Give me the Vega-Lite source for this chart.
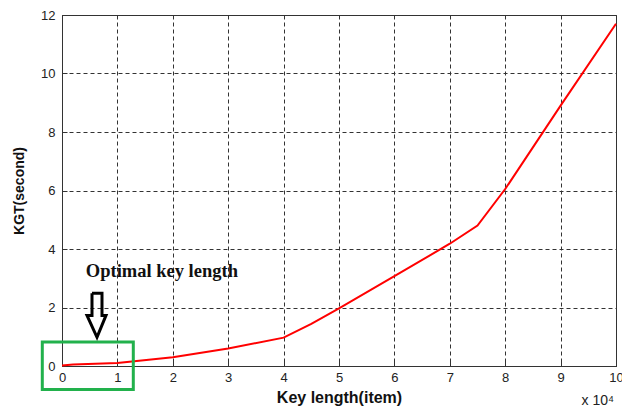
{
  "$schema": "https://vega.github.io/schema/vega-lite/v6.json",
  "width": 554,
  "height": 351,
  "autosize": "none",
  "padding": {"left": 62, "top": 15, "right": 6, "bottom": 43},
  "background": "white",
  "config": {
    "view": {"stroke": "#333", "strokeWidth": 1},
    "font": "Liberation Sans"
  },
  "datasets": {
    "kgt": [
      {"key_length": 0, "kgt": 0.02},
      {"key_length": 2000, "kgt": 0.05},
      {"key_length": 10000, "kgt": 0.1},
      {"key_length": 20000, "kgt": 0.3},
      {"key_length": 30000, "kgt": 0.6},
      {"key_length": 40000, "kgt": 0.97},
      {"key_length": 45000, "kgt": 1.44},
      {"key_length": 50000, "kgt": 1.97},
      {"key_length": 60000, "kgt": 3.07},
      {"key_length": 70000, "kgt": 4.18},
      {"key_length": 75000, "kgt": 4.8},
      {"key_length": 80000, "kgt": 6.05},
      {"key_length": 90000, "kgt": 8.9},
      {"key_length": 100000, "kgt": 11.7}
    ],
    "arrow": [
      {"i": 0, "ax": 5415, "ay": 2.49},
      {"i": 1, "ax": 7220, "ay": 2.49},
      {"i": 2, "ax": 7220, "ay": 1.73},
      {"i": 3, "ax": 7942, "ay": 1.73},
      {"i": 4, "ax": 6318, "ay": 0.98},
      {"i": 5, "ax": 4513, "ay": 1.73},
      {"i": 6, "ax": 5415, "ay": 1.73},
      {"i": 7, "ax": 5415, "ay": 2.49}
    ],
    "box": [
      {"x0": -3556, "x1": 12870, "y0": 0.82, "y1": -0.807}
    ],
    "label": [
      {"lx": 4300, "ly": 3.24, "text": "Optimal key length"}
    ],
    "note": [
      {"nx": 100000, "ny": -1.2, "text": "x 10⁴"}
    ]
  },
  "layer": [
    {
      "data": {"name": "kgt"},
      "mark": {"type": "line", "color": "#ff0000", "strokeWidth": 2},
      "encoding": {
        "x": {
          "field": "key_length",
          "type": "quantitative",
          "scale": {"domain": [0, 100000], "nice": false},
          "axis": {
            "values": [0, 10000, 20000, 30000, 40000, 50000, 60000, 70000, 80000, 90000, 100000],
            "labelExpr": "datum.value / 10000",
            "title": "Key length(item)",
            "titleFont": "Liberation Sans",
            "titleFontWeight": "bold",
            "titleFontSize": 16,
            "titleColor": "#111",
            "titlePadding": 5,
            "labelFontSize": 13,
            "labelColor": "#222",
            "labelPadding": 10,
            "tickSize": -5,
            "tickColor": "#333",
            "domainColor": "#333",
            "grid": true,
            "gridDash": [4, 3],
            "gridColor": "#333",
            "gridOpacity": 1,
            "labelFlush": false,
            "labelOverlap": false
          }
        },
        "y": {
          "field": "kgt",
          "type": "quantitative",
          "scale": {"domain": [0, 12], "nice": false},
          "axis": {
            "values": [0, 2, 4, 6, 8, 10, 12],
            "title": "KGT(second)",
            "titleFont": "Liberation Sans",
            "titleFontWeight": "bold",
            "titleFontSize": 14,
            "titleColor": "#111",
            "titlePadding": 14,
            "labelFontSize": 13,
            "labelColor": "#222",
            "labelPadding": 12,
            "tickSize": -5,
            "tickColor": "#333",
            "domainColor": "#333",
            "grid": true,
            "gridDash": [4, 3],
            "gridColor": "#333",
            "gridOpacity": 1,
            "labelFlush": false,
            "labelOverlap": false
          }
        }
      }
    },
    {
      "data": {"name": "box"},
      "mark": {"type": "rect", "fill": null, "fillOpacity": 0, "stroke": "#22b14c", "strokeWidth": 3},
      "encoding": {
        "x": {"field": "x0", "type": "quantitative"},
        "x2": {"field": "x1"},
        "y": {"field": "y0", "type": "quantitative"},
        "y2": {"field": "y1"}
      }
    },
    {
      "data": {"name": "arrow"},
      "mark": {"type": "line", "color": "#000", "strokeWidth": 3, "strokeJoin": "miter"},
      "encoding": {
        "x": {"field": "ax", "type": "quantitative"},
        "y": {"field": "ay", "type": "quantitative"},
        "order": {"field": "i", "type": "quantitative"}
      }
    },
    {
      "data": {"name": "label"},
      "mark": {"type": "text", "align": "left", "baseline": "middle", "font": "Liberation Serif", "fontWeight": "bold", "fontSize": 18.5, "color": "#111"},
      "encoding": {
        "x": {"field": "lx", "type": "quantitative"},
        "y": {"field": "ly", "type": "quantitative"},
        "text": {"field": "text"}
      }
    },
    {
      "data": {"name": "note"},
      "mark": {"type": "text", "align": "right", "baseline": "middle", "font": "Liberation Sans", "fontSize": 14, "color": "#222", "dx": -2},
      "encoding": {
        "x": {"field": "nx", "type": "quantitative"},
        "y": {"field": "ny", "type": "quantitative"},
        "text": {"field": "text"}
      }
    }
  ]
}
